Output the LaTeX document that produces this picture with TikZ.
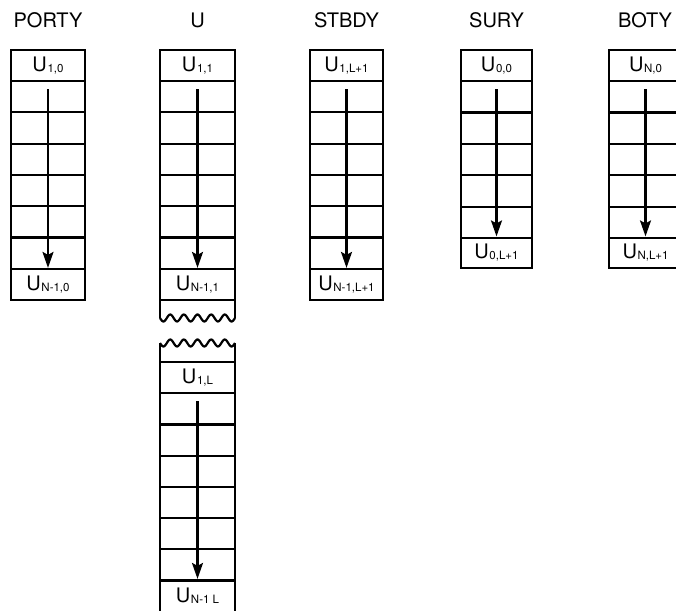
\documentclass[tikz,border=0pt]{standalone}
\usepackage{fontspec}
\setmainfont{TeX Gyre Heros}
\usetikzlibrary{arrows.meta}
\newcommand{\usub}[1]{U\kern0.6pt{\fontsize{11.5}{12}\selectfont\raisebox{-1pt}{#1}}}
\tikzset{
  cell/.style={line width=2.2pt},
  lab/.style={minimum height=31pt,inner sep=0pt,font=\fontsize{20}{22}\selectfont},
  title/.style={inner sep=0pt,font=\fontsize{20}{24}\selectfont}
}
\begin{document}
\begin{tikzpicture}[>={Stealth[length=16pt,width=11pt,inset=3pt]},x=1pt,y=-1pt,line width=2.2pt]
  \clip (0,0) rectangle (676,610);
  % column titles
  \node[title] (porty) at (48,20) {PORTY};
  \node[title] (u) at (197.5,20) {U};
  \node[title] (stbdy) at (346.5,20) {STBDY};
  \node[title] (sury) at (496.5,20) {SURY};
  \node[title] (boty) at (645,20) {BOTY};
  % PORTY
  \draw[cell] (11,50) rectangle (85,300);
  \foreach \k in {0,...,6} \draw[cell] (11,{81+31.3*\k}) -- (85,{81+31.3*\k});
  \node[lab] (p1) at (48,65.5) {\usub{1,0}};
  \node[lab] (pN) at (48,284.5) {\usub{N-1,0}};
  \draw[->] ([yshift=-7pt]p1.south) -- (pN.north);
  % U, upper part
  \draw[cell] (160,318) -- (160,50) -- (235,50) -- (235,318);
  \foreach \k in {0,...,7} \draw[cell] (160,{81+31.3*\k}) -- (235,{81+31.3*\k});
  \draw[cell] plot[domain=160:235,samples=80,smooth] (\x,{318+3.5*sin(26.4*(\x-160))});
  \node[lab] (u1) at (197.5,65.5) {\usub{1,1}};
  \node[lab] (uN) at (197.5,284.5) {\usub{N-1,1}};
  \draw[->] ([yshift=-7pt]u1.south) -- (uN.north);
  % U, lower part
  \draw[cell] plot[domain=160:235,samples=80,smooth] (\x,{343+3.5*sin(26.4*(\x-160))});
  \draw[cell] (160,343) -- (160,615) (235,343) -- (235,615);
  \foreach \k in {0,...,7} \draw[cell] (160,{362+31.2*\k}) -- (235,{362+31.2*\k});
  \node[lab] (uL) at (197.5,377.5) {\usub{1,L}};
  \node[lab] (uNL) at (197.5,595.5) {\usub{N-1 L}};
  \draw[->] ([yshift=-7pt]uL.south) -- (uNL.north);
  % STBDY
  \draw[cell] (310,50) rectangle (383,300);
  \foreach \k in {0,...,6} \draw[cell] (310,{81+31.3*\k}) -- (383,{81+31.3*\k});
  \node[lab] (s1) at (346.5,65.5) {\usub{1,L+1}};
  \node[lab] (sN) at (346.5,284.5) {\usub{N-1,L+1}};
  \draw[->] ([yshift=-7pt]s1.south) -- (sN.north);
  % SURY
  \draw[cell] (461,50) rectangle (532,268);
  \foreach \k in {0,...,5} \draw[cell] (461,{81+31.4*\k}) -- (532,{81+31.4*\k});
  \node[lab] (r0) at (496.5,65.5) {\usub{0,0}};
  \node[lab] (rL) at (496.5,253) {\usub{0,L+1}};
  \draw[->] ([yshift=-7pt]r0.south) -- (rL.north);
  % BOTY
  \draw[cell] (609,50) rectangle (682,268);
  \foreach \k in {0,...,5} \draw[cell] (609,{81+31.4*\k}) -- (682,{81+31.4*\k});
  \node[lab] (b0) at (645.5,65.5) {\usub{N,0}};
  \node[lab] (bL) at (645.5,253) {\usub{N,L+1}};
  \draw[->] ([yshift=-7pt]b0.south) -- (bL.north);
\end{tikzpicture}
\end{document}
